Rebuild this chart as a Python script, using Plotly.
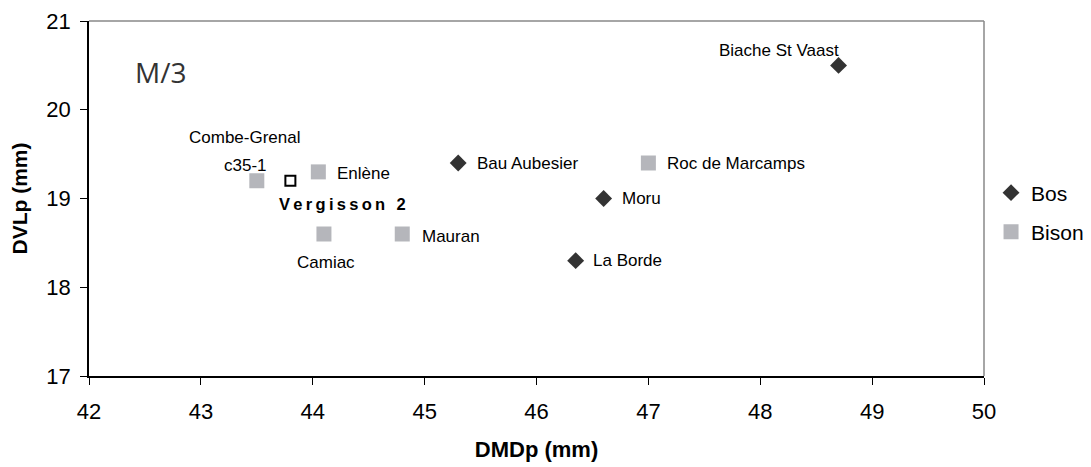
import plotly.graph_objects as go

# Bos (aurochs) sites
bos_sites = ["Biache St Vaast", "Bau Aubesier", "Moru", "La Borde"]
bos_dmd = [48.7, 45.3, 46.6, 46.35]
bos_dvl = [20.5, 19.4, 19.0, 18.3]

# Bison sites
bison_sites = ["c35-1", "Enlène", "Camiac", "Mauran", "Roc de Marcamps"]
bison_dmd = [43.5, 44.05, 44.1, 44.8, 47.0]
bison_dvl = [19.2, 19.3, 18.6, 18.6, 19.4]

# studied specimen
verg_name = "Vergisson 2"
verg_dmd = [43.8]
verg_dvl = [19.2]

FONT = "Liberation Sans, Arial, sans-serif"
BOS_COL = "#333333"
BISON_COL = "#b5b6bb"

fig = go.Figure()
fig.add_trace(go.Scatter(
    x=bos_dmd, y=bos_dvl, mode="markers", name="Bos", legend="legend",
    marker=dict(symbol="diamond", size=13, color=BOS_COL),
))
fig.add_trace(go.Scatter(
    x=bison_dmd, y=bison_dvl, mode="markers", name="Bison", legend="legend2",
    marker=dict(symbol="square", size=15, color=BISON_COL),
))
fig.add_trace(go.Scatter(
    x=verg_dmd, y=verg_dvl, mode="markers", showlegend=False,
    marker=dict(symbol="square-open", size=10, color="black", line=dict(width=2)),
))

# label placement per site: (xanchor, xshift, yshift)
bos_pos = {
    "Biache St Vaast": ("right", 2, 15),
    "Bau Aubesier": ("left", 17, 0),
    "Moru": ("left", 16, 0),
    "La Borde": ("left", 15, 0),
}
bison_pos = {
    "c35-1": ("center", -11, 15),
    "Enlène": ("left", 17, -2),
    "Camiac": ("center", 2, -28),
    "Mauran": ("left", 18, -2),
    "Roc de Marcamps": ("left", 17, 0),
}
for names, xs, ys, pos in [(bos_sites, bos_dmd, bos_dvl, bos_pos),
                           (bison_sites, bison_dmd, bison_dvl, bison_pos)]:
    for n, x, y in zip(names, xs, ys):
        xa, dx, dy = pos[n]
        fig.add_annotation(x=x, y=y, text=n, showarrow=False, xanchor=xa, yanchor="middle",
                           xshift=dx, yshift=dy,
                           font=dict(family=FONT, size=17, color="black"))
# site name above the c35-1 level label
fig.add_annotation(x=bison_dmd[0], y=bison_dvl[0], text="Combe-Grenal", showarrow=False,
                   xanchor="center", yanchor="middle", xshift=-12, yshift=43,
                   font=dict(family=FONT, size=17, color="black"))

fig.add_annotation(x=verg_dmd[0], y=verg_dvl[0], text="<b>" + "\u2009".join(verg_name) + "</b>",
                   showarrow=False, xanchor="left", yanchor="middle", xshift=-13, yshift=-23,
                   font=dict(family=FONT, size=16.5, color="black"))

fig.add_annotation(x=0.049, y=0.856, xref="paper", yref="paper", text="M/3", showarrow=False,
                   xanchor="left", yanchor="middle", font=dict(family="Open Sans", size=28, color="#333333"))

# grey top/right frame
fig.add_shape(type="line", xref="paper", yref="paper", x0=0, x1=1, y0=1, y1=1,
              line=dict(color="#888888", width=1.5))
fig.add_shape(type="line", xref="paper", yref="paper", x0=1, x1=1, y0=0, y1=1,
              line=dict(color="#888888", width=1.5))

fig.update_xaxes(range=[42, 50], dtick=1, showgrid=False, zeroline=False, automargin=False,
                 showline=True, linecolor="black", linewidth=1.5,
                 ticks="outside", ticklen=7, tickcolor="black", ticklabelstandoff=8,
                 tickfont=dict(family=FONT, size=22, color="black"),
                 title=dict(text="<b>DMDp (mm)</b>", font=dict(family=FONT, size=22, color="black"),
                            standoff=18))
fig.update_yaxes(range=[17, 21], dtick=1, showgrid=False, zeroline=False, automargin=False,
                 showline=True, linecolor="black", linewidth=1.5,
                 ticks="outside", ticklen=7, tickcolor="black", ticklabelstandoff=5,
                 tickfont=dict(family=FONT, size=22, color="black"),
                 title=dict(text="<b>DVLp (mm)</b>", font=dict(family=FONT, size=21, color="black"),
                            standoff=14))

leg = dict(xref="container", yref="container", xanchor="left", yanchor="middle",
           bgcolor="rgba(0,0,0,0)", font=dict(family=FONT, size=21, color="black"), itemwidth=30)
# page body adds an 8px offset, so the figure is 8px smaller than the window
fig.update_layout(
    width=1083, height=459,
    margin=dict(l=81, r=107, t=13, b=91),
    paper_bgcolor="white", plot_bgcolor="white",
    font=dict(family=FONT, color="black"),
    legend=dict(leg, x=0.9077, y=0.597),
    legend2=dict(leg, x=0.9077, y=0.512),
)

fig.write_html("out.html")
